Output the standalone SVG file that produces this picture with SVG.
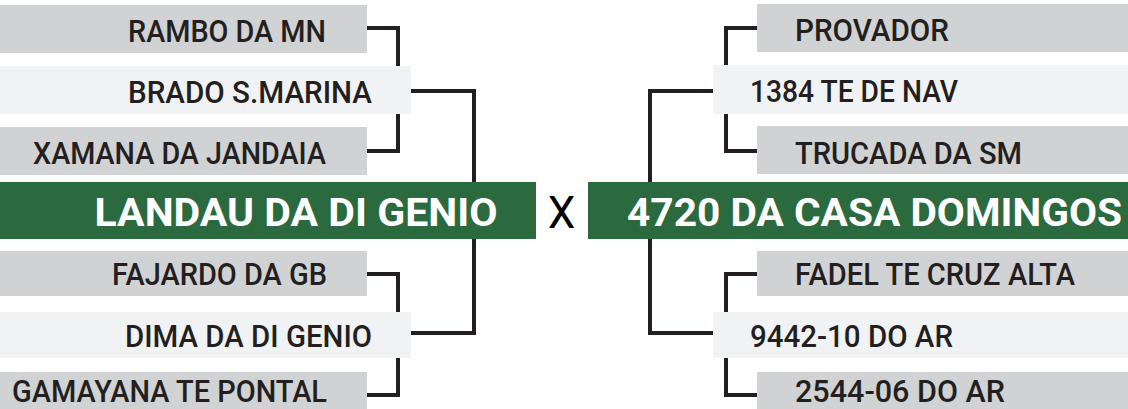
<svg xmlns="http://www.w3.org/2000/svg" width="1128" height="409" viewBox="0 0 1128 409">
<style>
.g{fill:#d1d2d4}
.l{fill:#f1f2f4}
.gr{fill:#2b6a3e}
.t{font-family:Roboto,"Liberation Sans",sans-serif;font-size:32px;font-weight:500;fill:#231f20}
.h{font-family:Roboto,"Liberation Sans",sans-serif;font-size:39px;font-weight:700;fill:#ffffff}
.x{font-family:Roboto,"Liberation Sans",sans-serif;font-size:44px;font-weight:400;fill:#000000}
.c{fill:none;stroke:#231f20;stroke-width:4;stroke-linejoin:miter}
</style>
<rect width="1128" height="409" fill="#ffffff"/>
<g id="connectors">
<path class="c" d="M367,28 H398 V151 H367"/>
<path class="c" d="M411,91 H474 V182"/>
<path class="c" d="M367,274 H398 V395 H367"/>
<path class="c" d="M411,333 H474 V239"/>
<path class="c" d="M757,28 H726 V151 H757"/>
<path class="c" d="M713,91 H650 V182"/>
<path class="c" d="M757,274 H726 V395 H757"/>
<path class="c" d="M713,333 H650 V239"/>
</g>
<g id="rambo"><rect class="g" x="0" y="5" width="367" height="48"/><text class="t" x="326" y="42" text-anchor="end" textLength="198" lengthAdjust="spacingAndGlyphs">RAMBO DA MN</text></g>
<g id="brado"><rect class="l" x="0" y="66" width="411" height="48"/><text class="t" x="372" y="103" text-anchor="end" textLength="244" lengthAdjust="spacingAndGlyphs">BRADO S.MARINA</text></g>
<g id="xamana"><rect class="g" x="0" y="127" width="367" height="48"/><text class="t" x="326" y="163.5" text-anchor="end" textLength="293" lengthAdjust="spacingAndGlyphs">XAMANA DA JANDAIA</text></g>
<g id="landau"><rect class="gr" x="0" y="182" width="536" height="57"/><text class="h" x="497.5" y="225.5" text-anchor="end" textLength="403" lengthAdjust="spacingAndGlyphs">LANDAU DA DI GENIO</text></g>
<g id="fajardo"><rect class="g" x="0" y="251" width="367" height="45"/><text class="t" x="327" y="285" text-anchor="end" textLength="215" lengthAdjust="spacingAndGlyphs">FAJARDO DA GB</text></g>
<g id="dima"><rect class="l" x="0" y="312" width="411" height="46"/><text class="t" x="372" y="347" text-anchor="end" textLength="247" lengthAdjust="spacingAndGlyphs">DIMA DA DI GENIO</text></g>
<g id="gamayana"><rect class="g" x="0" y="372" width="367" height="37"/><text class="t" x="327" y="402" text-anchor="end" textLength="315" lengthAdjust="spacingAndGlyphs">GAMAYANA TE PONTAL</text></g>
<g id="versus"><text class="x" x="561.5" y="228" text-anchor="middle">X</text></g>
<g id="provador"><rect class="g" x="757" y="4" width="371" height="48"/><text class="t" x="795" y="41" textLength="154" lengthAdjust="spacingAndGlyphs">PROVADOR</text></g>
<g id="te1384"><rect class="l" x="713" y="65" width="415" height="49"/><text class="t" x="750" y="102" textLength="208" lengthAdjust="spacingAndGlyphs">1384 TE DE NAV</text></g>
<g id="trucada"><rect class="g" x="757" y="126" width="371" height="48"/><text class="t" x="795" y="163.5" textLength="227" lengthAdjust="spacingAndGlyphs">TRUCADA DA SM</text></g>
<g id="casa4720"><rect class="gr" x="588" y="182" width="540" height="57"/><text class="h" x="627" y="225.5" textLength="495" lengthAdjust="spacingAndGlyphs">4720 DA CASA DOMINGOS</text></g>
<g id="fadel"><rect class="g" x="757" y="251" width="371" height="45"/><text class="t" x="795" y="285" textLength="280" lengthAdjust="spacingAndGlyphs">FADEL TE CRUZ ALTA</text></g>
<g id="ar9442"><rect class="l" x="713" y="312" width="415" height="46"/><text class="t" x="750" y="347" textLength="203" lengthAdjust="spacingAndGlyphs">9442-10 DO AR</text></g>
<g id="ar2544"><rect class="g" x="757" y="372" width="371" height="37"/><text class="t" x="795" y="402" textLength="210" lengthAdjust="spacingAndGlyphs">2544-06 DO AR</text></g>
</svg>
